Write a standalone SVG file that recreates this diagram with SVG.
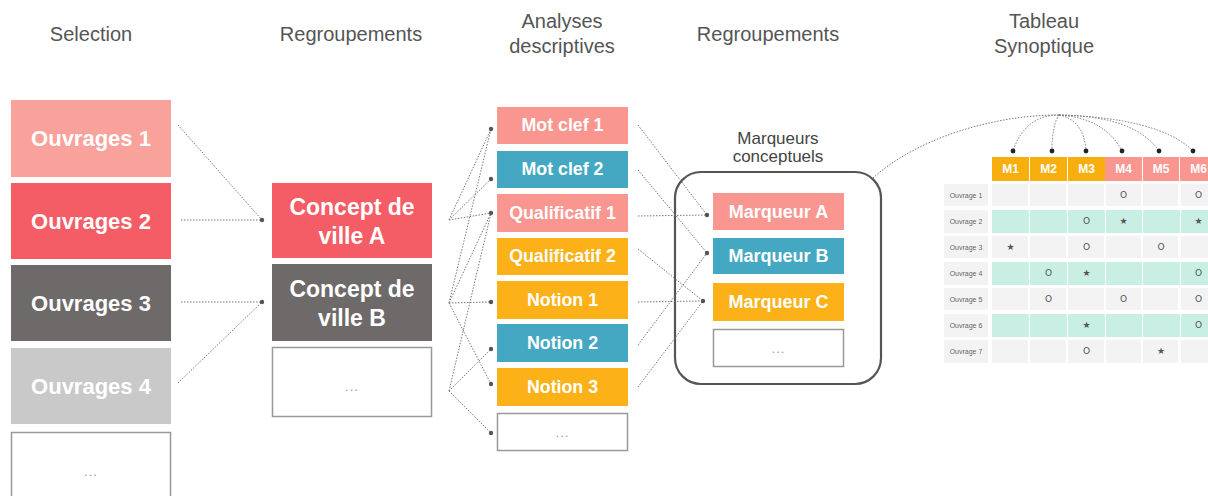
<svg xmlns="http://www.w3.org/2000/svg" width="1208" height="496" viewBox="0 0 1208 496">
<style>
.title{font-family:"Liberation Sans",Arial,sans-serif;font-size:20px;fill:#555;text-anchor:middle}
.big{font-family:"Liberation Sans",Arial,sans-serif;font-size:22px;font-weight:bold;fill:#fff;text-anchor:middle}
.big2{font-family:"Liberation Sans",Arial,sans-serif;font-size:23px;font-weight:bold;fill:#fff;text-anchor:middle}
.mid{font-family:"Liberation Sans",Arial,sans-serif;font-size:17.8px;font-weight:bold;fill:#fff;text-anchor:middle}
.dots{font-family:"Liberation Sans",Arial,sans-serif;font-size:13px;fill:#999;text-anchor:middle;letter-spacing:1px}
.empty{fill:#fff;stroke:#999;stroke-width:1.5}
.salmon{fill:#F8968F}.coral{fill:#F45D66}.dark{fill:#6E6A6A}.light{fill:#C9C9C9}.blue{fill:#45A8C3}.amber{fill:#FBB117}
.conn line,.conn path{stroke:#777;stroke-width:1;stroke-dasharray:1.5 1.5;fill:none}
.dot{fill:#555}
.tdot{fill:#222}
.hdr{font-family:"Liberation Sans",Arial,sans-serif;font-size:12px;font-weight:bold;fill:#fff;text-anchor:middle}
.rl{font-family:"Liberation Sans",Arial,sans-serif;font-size:7px;fill:#666;text-anchor:middle}
.sym{font-family:"DejaVu Sans",sans-serif;font-size:9px;fill:#555;text-anchor:middle}
.g{fill:#F3F3F3}.m{fill:#C9EEE4}
</style>
<rect width="1208" height="496" fill="#fff"/>
<g id="titles">
<text class="title" x="91" y="41">Selection</text>
<text class="title" x="351" y="41">Regroupements</text>
<text class="title" x="562" y="28">Analyses</text>
<text class="title" x="562" y="53">descriptives</text>
<text class="title" x="768" y="41">Regroupements</text>
<text class="title" x="1044" y="28">Tableau</text>
<text class="title" x="1044" y="53">Synoptique</text>
</g>
<g id="ouvrages1"><rect x="11" y="100" width="160" height="77" style="fill:#F9A19B"/><text class="big" x="91" y="146">Ouvrages 1</text></g>
<g id="ouvrages2"><rect class="coral" x="11" y="183" width="160" height="76"/><text class="big" x="91" y="229">Ouvrages 2</text></g>
<g id="ouvrages3"><rect class="dark" x="11" y="265" width="160" height="76"/><text class="big" x="91" y="311">Ouvrages 3</text></g>
<g id="ouvrages4"><rect class="light" x="11" y="348" width="160" height="76"/><text class="big" x="91" y="394">Ouvrages 4</text></g>
<g id="ouvrages-more"><rect class="empty" x="11.5" y="432.5" width="159" height="70"/><text class="dots" x="91" y="476">...</text></g>
<g id="conceptA"><rect class="coral" x="272" y="183" width="160" height="75"/><text class="big2" x="352" y="215">Concept de</text><text class="big2" x="352" y="244">ville A</text></g>
<g id="conceptB"><rect class="dark" x="272" y="264" width="160" height="77"/><text class="big2" x="352" y="297">Concept de</text><text class="big2" x="352" y="326">ville B</text></g>
<g id="concept-more"><rect class="empty" x="272.5" y="347.5" width="159" height="69"/><text class="dots" x="352" y="391">...</text></g>
<g id="motclef1"><rect class="salmon" x="497" y="107" width="131" height="37"/><text class="mid" x="562.5" y="131">Mot clef 1</text></g>
<g id="motclef2"><rect class="blue" x="497" y="151" width="131" height="37"/><text class="mid" x="562.5" y="175">Mot clef 2</text></g>
<g id="qualificatif1"><rect class="salmon" x="497" y="194" width="131" height="38"/><text class="mid" x="562.5" y="219">Qualificatif 1</text></g>
<g id="qualificatif2"><rect class="amber" x="497" y="238" width="131" height="37"/><text class="mid" x="562.5" y="262">Qualificatif 2</text></g>
<g id="notion1"><rect class="amber" x="497" y="281" width="131" height="38"/><text class="mid" x="562.5" y="306">Notion 1</text></g>
<g id="notion2"><rect class="blue" x="497" y="324" width="131" height="38"/><text class="mid" x="562.5" y="349">Notion 2</text></g>
<g id="notion3"><rect class="amber" x="497" y="368" width="131" height="38"/><text class="mid" x="562.5" y="393">Notion 3</text></g>
<g id="analyse-more"><rect class="empty" x="497.5" y="413.5" width="130" height="37"/><text class="dots" x="562.5" y="437">...</text></g>
<g id="marqueurs">
<rect x="675" y="172" width="206" height="212" rx="26" fill="none" stroke="#555" stroke-width="2.2"/>
<text class="title" style="font-size:17px;fill:#444" x="778" y="144">Marqueurs</text>
<text class="title" style="font-size:17px;fill:#444" x="778" y="162">conceptuels</text>
</g>
<g id="marqueurA"><rect class="salmon" x="713" y="193" width="131" height="37"/><text class="mid" style="font-size:18px" x="778.5" y="218">Marqueur A</text></g>
<g id="marqueurB"><rect class="blue" x="713" y="238" width="131" height="36"/><text class="mid" style="font-size:18px" x="778.5" y="262">Marqueur B</text></g>
<g id="marqueurC"><rect class="amber" x="713" y="283" width="131" height="38"/><text class="mid" style="font-size:18px" x="778.5" y="308">Marqueur C</text></g>
<g id="marqueur-more"><rect class="empty" x="713.5" y="329.5" width="130" height="37"/><text class="dots" x="778.5" y="353">...</text></g>
<g id="tableau">
<rect x="992" y="157" width="37" height="24" style="fill:#F8AE0C"/>
<rect x="1030" y="157" width="37" height="24" style="fill:#F8AE0C"/>
<rect x="1068" y="157" width="37" height="24" style="fill:#F8AE0C"/>
<rect x="1105" y="157" width="37" height="24" class="salmon"/>
<rect x="1143" y="157" width="36" height="24" class="salmon"/>
<rect x="1180" y="157" width="37" height="24" class="salmon"/>
<text class="hdr" x="1010.5" y="173">M1</text>
<text class="hdr" x="1048.5" y="173">M2</text>
<text class="hdr" x="1086.5" y="173">M3</text>
<text class="hdr" x="1123.5" y="173">M4</text>
<text class="hdr" x="1161" y="173">M5</text>
<text class="hdr" x="1198.5" y="173">M6</text>
<g class="g">
<rect x="944" y="184" width="44" height="22"/><rect x="944" y="210" width="44" height="23"/><rect x="944" y="236" width="44" height="22"/><rect x="944" y="262" width="44" height="23"/><rect x="944" y="288" width="44" height="22"/><rect x="944" y="314" width="44" height="23"/><rect x="944" y="340" width="44" height="23"/>
<rect x="992" y="184" width="36" height="22"/><rect x="1030" y="184" width="36" height="22"/><rect x="1068" y="184" width="36" height="22"/><rect x="1106" y="184" width="35" height="22"/><rect x="1143" y="184" width="35" height="22"/><rect x="1181" y="184" width="36" height="22"/>
<rect x="992" y="236" width="36" height="22"/><rect x="1030" y="236" width="36" height="22"/><rect x="1068" y="236" width="36" height="22"/><rect x="1106" y="236" width="35" height="22"/><rect x="1143" y="236" width="35" height="22"/><rect x="1181" y="236" width="36" height="22"/>
<rect x="992" y="288" width="36" height="22"/><rect x="1030" y="288" width="36" height="22"/><rect x="1068" y="288" width="36" height="22"/><rect x="1106" y="288" width="35" height="22"/><rect x="1143" y="288" width="35" height="22"/><rect x="1181" y="288" width="36" height="22"/>
<rect x="992" y="340" width="36" height="23"/><rect x="1030" y="340" width="36" height="23"/><rect x="1068" y="340" width="36" height="23"/><rect x="1106" y="340" width="35" height="23"/><rect x="1143" y="340" width="35" height="23"/><rect x="1181" y="340" width="36" height="23"/>
</g>
<g class="m">
<rect x="992" y="210" width="37" height="23"/><rect x="1030" y="210" width="37" height="23"/><rect x="1068" y="210" width="37" height="23"/><rect x="1106" y="210" width="36" height="23"/><rect x="1143" y="210" width="37" height="23"/><rect x="1181" y="210" width="36" height="23"/>
<rect x="992" y="262" width="37" height="23"/><rect x="1030" y="262" width="37" height="23"/><rect x="1068" y="262" width="37" height="23"/><rect x="1106" y="262" width="36" height="23"/><rect x="1143" y="262" width="37" height="23"/><rect x="1181" y="262" width="36" height="23"/>
<rect x="992" y="314" width="37" height="23"/><rect x="1030" y="314" width="37" height="23"/><rect x="1068" y="314" width="37" height="23"/><rect x="1106" y="314" width="36" height="23"/><rect x="1143" y="314" width="37" height="23"/><rect x="1181" y="314" width="36" height="23"/>
</g>
<text class="rl" x="966" y="198">Ouvrage 1</text>
<text class="rl" x="966" y="224">Ouvrage 2</text>
<text class="rl" x="966" y="250">Ouvrage 3</text>
<text class="rl" x="966" y="276">Ouvrage 4</text>
<text class="rl" x="966" y="302">Ouvrage 5</text>
<text class="rl" x="966" y="328">Ouvrage 6</text>
<text class="rl" x="966" y="354">Ouvrage 7</text>
<text class="sym" x="1123.5" y="198">O</text><text class="sym" x="1198.5" y="198">O</text>
<text class="sym" x="1086.5" y="224">O</text><text class="sym" x="1123.5" y="224">★</text><text class="sym" x="1198.5" y="224">★</text>
<text class="sym" x="1010.5" y="250">★</text><text class="sym" x="1086.5" y="250">O</text><text class="sym" x="1161" y="250">O</text>
<text class="sym" x="1048.5" y="276">O</text><text class="sym" x="1086.5" y="276">★</text><text class="sym" x="1198.5" y="276">O</text>
<text class="sym" x="1048.5" y="302">O</text><text class="sym" x="1123.5" y="302">O</text><text class="sym" x="1198.5" y="302">O</text>
<text class="sym" x="1086.5" y="328">★</text><text class="sym" x="1198.5" y="328">O</text>
<text class="sym" x="1086.5" y="354">O</text><text class="sym" x="1161" y="354">★</text>
</g>
<g id="connectors" class="conn">
<line x1="178" y1="125" x2="262" y2="220"/>
<line x1="181" y1="220" x2="262" y2="220"/>
<line x1="181" y1="302" x2="262" y2="302"/>
<line x1="178" y1="383" x2="262" y2="302"/>
<line x1="449" y1="220" x2="491" y2="129"/>
<line x1="449" y1="220" x2="491" y2="179"/>
<line x1="449" y1="220" x2="491" y2="213"/>
<line x1="449" y1="303" x2="491" y2="129"/>
<line x1="449" y1="303" x2="491" y2="213"/>
<line x1="449" y1="303" x2="491" y2="302"/>
<line x1="449" y1="303" x2="491" y2="384"/>
<line x1="449" y1="391" x2="491" y2="213"/>
<line x1="449" y1="391" x2="491" y2="349"/>
<line x1="449" y1="391" x2="491" y2="433"/>
<line x1="638" y1="125" x2="707" y2="215"/>
<line x1="638" y1="170" x2="707" y2="253"/>
<line x1="638" y1="216" x2="707" y2="215"/>
<line x1="638" y1="249" x2="703" y2="301"/>
<line x1="638" y1="302" x2="703" y2="301"/>
<line x1="638" y1="345" x2="707" y2="253"/>
<line x1="638" y1="387" x2="703" y2="301"/>
<path d="M873,178 C915,140 990,115 1059,115"/>
<path d="M1059,115 Q1025,115 1013,151"/>
<path d="M1059,115 Q1052,125 1052,151"/>
<path d="M1059,115 Q1084,120 1086,151"/>
<path d="M1059,115 Q1105,118 1122,151"/>
<path d="M1059,115 Q1135,116 1159,151"/>
<path d="M1059,115 Q1160,118 1193,151"/>
<g stroke="none">
<circle class="dot" cx="262" cy="220" r="2.2"/><circle class="dot" cx="262" cy="302" r="2.2"/>
<circle class="dot" cx="491" cy="129" r="2.2"/><circle class="dot" cx="491" cy="179" r="2.2"/><circle class="dot" cx="491" cy="213" r="2.2"/><circle class="dot" cx="491" cy="302" r="2.2"/><circle class="dot" cx="491" cy="349" r="2.2"/><circle class="dot" cx="491" cy="384" r="2.2"/><circle class="dot" cx="491" cy="433" r="2.2"/>
<circle class="dot" cx="707" cy="215" r="2.2"/><circle class="dot" cx="707" cy="253" r="2.2"/><circle class="dot" cx="703" cy="301" r="2.2"/>
<circle class="tdot" cx="1013" cy="151" r="2.4"/><circle class="tdot" cx="1052" cy="151" r="2.4"/><circle class="tdot" cx="1086" cy="151" r="2.4"/><circle class="tdot" cx="1122" cy="151" r="2.4"/><circle class="tdot" cx="1159" cy="151" r="2.4"/><circle class="tdot" cx="1193" cy="151" r="2.4"/>
</g>
</g>
</svg>
